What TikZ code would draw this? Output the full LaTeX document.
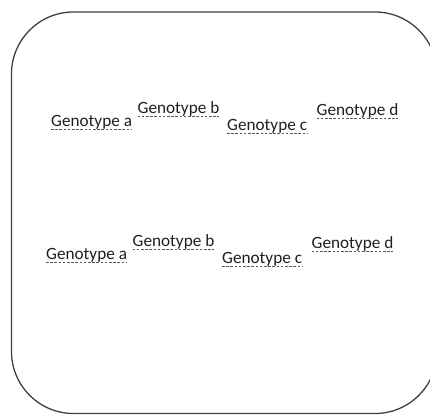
\documentclass[tikz,border=0pt]{standalone}
\usepackage{fontspec}
\setmainfont{Carlito}
\begin{document}
\begin{tikzpicture}[x=1pt,y=1pt,
  gtext/.style={inner sep=0pt, anchor=base west, text=black!88, font=\fontsize{17.2}{20}\selectfont},
  uline/.style={draw=black!65, line width=1pt, dash pattern=on 2.6pt off 1.6pt},
  frame/.style={draw=black!75, line width=1.3pt, rounded corners=62pt}]
\useasboundingbox (0,0) rectangle (430,415);
\draw[frame] (11.5,1.5) rectangle (437,403);
% row 1
\node[gtext] (a1) at (51,415-126.5) {Genotype a};
\node[gtext] (b1) at (137.5,415-113.5) {Genotype b};
\node[gtext] (c1) at (227,415-130.5) {Genotype c};
\node[gtext] (d1) at (316.5,415-115.5) {Genotype d};
% row 2
\node[gtext] (a2) at (46,415-259.5) {Genotype a};
\node[gtext] (b2) at (132.5,415-246.5) {Genotype b};
\node[gtext] (c2) at (222,415-263.5) {Genotype c};
\node[gtext] (d2) at (311.5,415-248.5) {Genotype d};
\foreach \n in {a1,b1,c1,d1,a2,b2,c2,d2}{
  \draw[uline] ([yshift=-2.8pt]\n.base west) -- ([yshift=-2.8pt]\n.base east);
}
\end{tikzpicture}
\end{document}
